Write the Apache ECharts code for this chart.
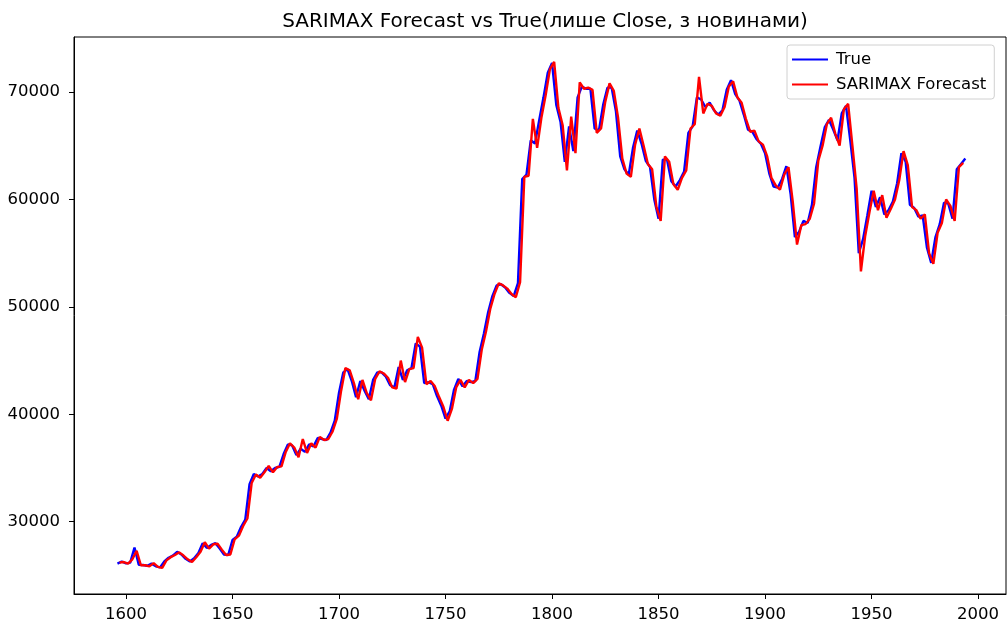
<!DOCTYPE html>
<html>
<head>
	<meta charset="UTF-8">
	<title>SARIMAX Forecast vs True</title>
	<script type="text/javascript" src="https://cdn.jsdelivr.net/npm/echarts@6/dist/echarts.min.js"></script>
	<style>
		html, body { margin: 0; padding: 0; background: #fff; }
		#show { width: 1007px; height: 626px; }
	</style>
</head>
<body>
<div id="show"></div>

<script type="text/javascript">
	// true close, every 2nd day starting at 1596
	var trueStart = 1596;
	var trueClose = [
		26100, 26300, 26130, 26200, 27600, 26000, 25970, 25900, 26100, 25850,
		25750, 26300, 26650, 26850, 27200, 26950, 26550, 26300, 26600, 27100,
		28000, 27550, 27850, 28000, 27500, 26950, 26900, 28300, 28600, 29500,
		30200, 33500, 34450, 34200, 34450, 35000, 34700, 35000, 35100, 36300,
		37200, 37100, 36200, 36800, 36500, 37200, 37000, 37800, 37700, 37600,
		38300, 39400, 42000, 43900, 44200, 43100, 41600, 43100, 42200, 41400,
		43200, 43900, 43900, 43500, 42700, 42500, 44400, 43200, 44100, 44300,
		46600, 46300, 42900, 43000, 42800, 41700, 40800, 39600, 40300, 42300,
		43300, 42600, 43100, 43000, 43100, 45800, 47500, 49500, 51000, 52000,
		52100, 51800, 51300, 51000, 52200, 61900, 62300, 65500, 65200, 67400,
		69500, 71800, 72700, 68800, 67200, 63500, 66800, 64500, 69500, 70500,
		70300, 70300, 66600, 66400, 68800, 70400, 70400, 68200, 64000, 62800,
		62300, 64800, 66400, 65200, 63600, 63000, 60000, 58200, 63700, 63700,
		61700, 61200, 61800, 62600, 66200, 66800, 69500, 69300, 68600, 69000,
		68300, 67900, 68300, 70200, 71100, 69800, 69200, 67900, 66500, 66300,
		65600, 65200, 64300, 62400, 61200, 61100, 61900, 63100, 60500, 56500,
		57000, 58000, 57800, 59500, 63000, 64900, 66700, 67400, 66500, 65500,
		68000, 68700, 65500, 62000, 55000, 56300, 58500, 60800, 59300, 60200,
		58600, 59000, 59800, 61500, 64300, 63500, 59500, 59200, 58400, 58500,
		55500, 54100, 56500, 57700, 59700, 59600, 58200, 62800, 63300, 63800
	];

	// SARIMAX forecast, every 2nd day starting at 1597
	var fcStart = 1597;
	var fcClose = [
		26200, 26250, 26100, 26500, 27300, 25950, 25950, 25850, 26150, 25800,
		25700, 26400, 26700, 26900, 27150, 26850, 26500, 26250, 26700, 27200,
		28100, 27500, 27900, 27950, 27400, 26900, 26950, 28350, 28700, 29600,
		30300, 33600, 34400, 34100, 34600, 35200, 34600, 35100, 35150, 36500,
		37300, 36900, 36000, 37700, 36400, 37300, 36900, 37900, 37600, 37700,
		38400, 39600, 42200, 44300, 44100, 42900, 41400, 43200, 42000, 41300,
		43300, 44000, 43800, 43400, 42500, 42400, 45000, 43000, 44200, 44300,
		47200, 46200, 42800, 43100, 42600, 41600, 40700, 39400, 40500, 42500,
		43200, 42500, 43200, 42900, 43300, 46000, 47700, 49800, 51200, 52200,
		52000, 51700, 51200, 50900, 52300, 62100, 62200, 67500, 64800, 67600,
		69700, 72100, 72800, 68500, 66900, 62700, 67700, 64300, 70900, 70300,
		70400, 70200, 66200, 66600, 69100, 70800, 70100, 67600, 63800, 62400,
		62100, 65100, 66600, 65000, 63300, 62800, 59300, 58000, 64000, 63500,
		61400, 60900, 62000, 62700, 66600, 67000, 71400, 68000, 68900, 68700,
		68000, 67800, 68600, 70500, 71000, 69500, 69000, 67500, 66300, 66400,
		65400, 65100, 64000, 62000, 61300, 60900, 62300, 63000, 59800, 55800,
		57600, 57700, 58200, 59600, 63600, 65000, 67000, 67600, 66100, 65000,
		68400, 68900, 65000, 61000, 53300, 56600, 58800, 60800, 59000, 60400,
		58300, 59100, 60000, 61800, 64500, 63200, 59300, 59000, 58200, 58600,
		55000, 54000, 56900, 57800, 60000, 59400, 58000, 63000, 63400
	];

	var xTicks = [1600, 1650, 1700, 1750, 1800, 1850, 1900, 1950, 2000];
	var yTicks = [30000, 40000, 50000, 60000, 70000];

	var truePts = trueClose.map((v, i) => [trueStart + 2 * i, v]);
	var fcPts = fcClose.map((v, i) => [fcStart + 2 * i, v]);

	var font = 'DejaVu Sans';
	var myChart = echarts.init(document.getElementById('show'));

	var option = {
		animation: false,
		backgroundColor: '#fff',
		title: {
			text: 'SARIMAX Forecast vs True(лише Close, з новинами)',
			left: 540,
			textAlign: 'center',
			top: 7,
			textStyle: { fontFamily: font, fontSize: 20, fontWeight: 'normal', color: '#000' }
		},
		legend: {
			orient: 'vertical',
			left: 787,
			top: 45,
			itemWidth: 36,
			itemHeight: 2,
			itemGap: 8,
			padding: [6, 8, 6, 5],
			borderColor: '#d0d0d0',
			borderWidth: 1,
			borderRadius: 3,
			backgroundColor: 'rgba(255,255,255,0.85)',
			icon: 'rect',
			textStyle: { fontFamily: font, fontSize: 16.5, color: '#000', padding: [0, 0, 0, 3] },
			data: ['True', 'SARIMAX Forecast']
		},
		grid: {
			left: 74, right: 1, top: 37, bottom: 32,
			show: true, borderColor: '#000', borderWidth: 1
		},
		xAxis: {
			type: 'value',
			min: 1575.6,
			max: 2013.1,
			axisLine: { show: true, onZero: false, lineStyle: { color: '#000', width: 1 } },
			axisTick: { show: true, length: 5, customValues: xTicks, lineStyle: { color: '#000' } },
			axisLabel: { customValues: xTicks, margin: 12, fontFamily: font, fontSize: 16.5, color: '#000', formatter: v => String(v) },
			splitLine: { show: false }
		},
		yAxis: {
			type: 'value',
			min: 23274,
			max: 75116,
			axisLine: { show: true, onZero: false, lineStyle: { color: '#000', width: 1 } },
			axisTick: { show: true, length: 5, customValues: yTicks, lineStyle: { color: '#000' } },
			axisLabel: { customValues: yTicks, margin: 14, fontFamily: font, fontSize: 16.5, color: '#000', formatter: v => String(v) },
			splitLine: { show: false }
		},
		series: [
			{
				name: 'True',
				type: 'line',
				data: truePts,
				showSymbol: false,
				color: '#0000ff',
				lineStyle: { width: 2.4, color: '#0000ff' }
			},
			{
				name: 'SARIMAX Forecast',
				type: 'line',
				data: fcPts,
				showSymbol: false,
				color: '#ff0000',
				lineStyle: { width: 2.4, color: '#ff0000' }
			}
		]
	};

	myChart.setOption(option);
</script>
</body>
</html>
